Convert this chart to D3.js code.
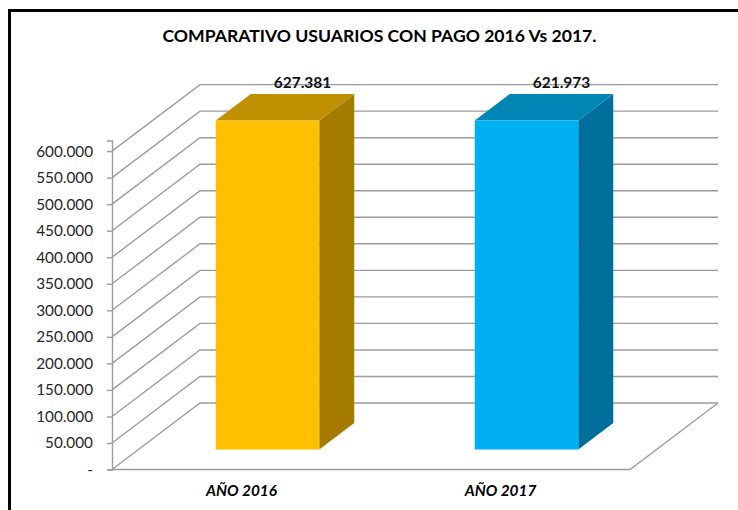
<!DOCTYPE html>
<html>
<head>
<meta charset="utf-8">
<script src="https://cdn.jsdelivr.net/npm/d3@7"></script>
<style>
  html, body { margin: 0; padding: 0; background: #fff; }
  svg { display: block; }
  text { font-family: Lato, "Open Sans", sans-serif; }
</style>
</head>
<body>
<div id="visualisation"></div>
<script>
// chart data
var categories = ["AÑO 2016", "AÑO 2017"];
var usuarios = [627381, 621973];
var yTicks = [0, 50000, 100000, 150000, 200000, 250000, 300000, 350000, 400000, 450000, 500000, 550000, 600000];
var axisMax = 620000; // the bars are cut at the axis maximum, like in the original
var frontColors = ["#FFC000", "#00B0F0"];
var topColors = ["#BF9000", "#0085B5"];
var sideColors = ["#A67C00", "#006F9B"];
var title = "COMPARATIVO USUARIOS CON PAGO 2016 Vs 2017.";

var width = 738, height = 510;

// plot box of the front plane
var x0 = 112, x1 = 630, y0 = 469.5, y1 = 140.5;
// shift of the back wall, and of the front and back faces of the bars
var wall = {dx: 88, dy: -66.5};
var barFront = {dx: 26, dy: -20};
var barBack = {dx: 61, dy: -46.5};
var barWidth = 103.5;
var gridColor = "#9c9c9c";

var svg = d3.select("#visualisation")
    .append("svg")
    .attr("width", width)
    .attr("height", height);

// black frame, only left and top are visible in the picture
svg.append("path")
    .attr("d", d3.line()([[9.5, height], [9.5, 10.5], [width, 10.5]]))
    .attr("fill", "none")
    .attr("stroke", "#000")
    .attr("stroke-width", 3);

svg.append("text")
    .attr("x", 379.5)
    .attr("y", 42)
    .attr("text-anchor", "middle")
    .attr("font-size", "17.6px")
    .attr("font-weight", "bold")
    .attr("fill", "#000")
    .text(title);

var xScale = d3.scaleBand().domain(categories).range([x0, x1]);
var yScale = d3.scaleLinear().domain([0, axisMax]).range([y0, y1]).clamp(true);

var numberFormat = d3.formatLocale({decimal: ",", thousands: ".", grouping: [3], currency: ["", ""]}).format(",d");

// grid on the side and back walls
var grid = svg.append("g")
    .attr("fill", "none")
    .attr("stroke", gridColor)
    .attr("stroke-width", 1.4);

grid.selectAll("path")
    .data(yTicks)
    .enter()
    .append("path")
    .attr("d", d => d3.line()([
        [x0, yScale(d)],
        [x0 + wall.dx, yScale(d) + wall.dy],
        [x1 + wall.dx, yScale(d) + wall.dy]
    ]));

// floor
grid.append("path")
    .attr("d", d3.line()([
        [x0, y0],
        [x1, y0],
        [x1 + wall.dx, y0 + wall.dy]
    ]));

// axes
var yAxis = svg.append("g")
    .attr("transform", "translate(" + x0 + ",0)")
    .call(d3.axisLeft(yScale)
        .tickValues(yTicks)
        .tickSize(5)
        .tickPadding(14)
        .tickFormat(d => d === 0 ? "-" : numberFormat(d)));

yAxis.select(".domain").attr("stroke", gridColor).attr("stroke-width", 1.4);
yAxis.selectAll(".tick line").attr("stroke", gridColor).attr("stroke-width", 1.4);
yAxis.selectAll(".tick text")
    .attr("font-family", "Lato")
    .attr("font-size", "15.3px")
    .attr("fill", "#262626");

var xAxis = svg.append("g")
    .attr("transform", "translate(0," + y0 + ")")
    .call(d3.axisBottom(xScale).tickSize(0).tickPadding(16));

xAxis.select(".domain").remove();
xAxis.selectAll(".tick text")
    .attr("font-family", "Lato")
    .attr("font-size", "15.4px")
    .attr("font-weight", "bold")
    .attr("font-style", "italic")
    .attr("fill", "#000");

// bars
var rows = categories.map((c, i) => ({name: c, value: usuarios[i], i: i}));

var groups = svg.selectAll(".bar")
    .data(rows)
    .enter()
    .append("g")
    .attr("class", "bar");

function corners(d) {
    var left = xScale(d.name) + xScale.bandwidth() / 2 - barWidth / 2;
    return {
        left: left,
        right: left + barWidth,
        bottom: y0,
        top: yScale(d.value)
    };
}

// side face
groups.append("path")
    .attr("fill", d => sideColors[d.i])
    .attr("d", d => {
        var c = corners(d);
        return d3.line()([
            [c.right + barFront.dx, c.top + barFront.dy],
            [c.right + barBack.dx, c.top + barBack.dy],
            [c.right + barBack.dx, c.bottom + barBack.dy],
            [c.right + barFront.dx, c.bottom + barFront.dy]
        ]) + "Z";
    });

// top face
groups.append("path")
    .attr("fill", d => topColors[d.i])
    .attr("d", d => {
        var c = corners(d);
        return d3.line()([
            [c.left + barFront.dx, c.top + barFront.dy],
            [c.left + barBack.dx, c.top + barBack.dy],
            [c.right + barBack.dx, c.top + barBack.dy],
            [c.right + barFront.dx, c.top + barFront.dy]
        ]) + "Z";
    });

// front face
groups.append("rect")
    .attr("fill", d => frontColors[d.i])
    .attr("x", d => corners(d).left + barFront.dx)
    .attr("y", d => corners(d).top + barFront.dy)
    .attr("width", barWidth)
    .attr("height", d => corners(d).bottom - corners(d).top);

// value labels
groups.append("text")
    .attr("x", d => xScale(d.name) + xScale.bandwidth() / 2 + barBack.dx)
    .attr("y", d => yScale(d.value) + barBack.dy - 6)
    .attr("text-anchor", "middle")
    .attr("font-size", "15.5px")
    .attr("font-weight", "bold")
    .attr("fill", "#111")
    .text(d => numberFormat(d.value));
</script>
</body>
</html>
